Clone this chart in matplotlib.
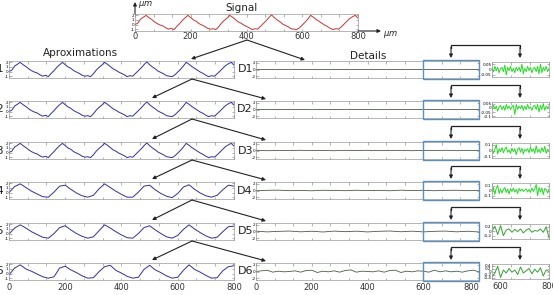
import matplotlib
matplotlib.use("Agg")
import matplotlib.pyplot as plt
from matplotlib.patches import Rectangle
from matplotlib.transforms import blended_transform_factory

W, H = 553, 295

# measured profile (um), sampled every 10 um
signal_x = list(range(0, 801, 10))
signal = [0.0, 0.3, 1.2, 1.6, 2.0, 1.5, 1.1, 0.6, 0.2, -0.1,
          -0.3, -0.7, -1.0, -0.8, -1.1, -0.4, 0.2, 0.9, 1.5, 2.0,
          1.5, 1.0, 0.7, 0.2, -0.1, -0.4, -0.8, -1.0, -0.9, -1.1,
          -0.5, 0.3, 0.9, 1.4, 2.0, 1.6, 1.1, 0.6, 0.3, -0.1,
          -0.4, -0.7, -1.1, -0.9, -1.0, -0.4, 0.2, 0.8, 1.5, 2.1,
          1.5, 1.0, 0.6, 0.1, -0.2, -0.5, -0.9, -1.0, -1.1, -0.7,
          -0.1, 0.5, 1.2, 2.0, 1.6, 1.1, 0.7, 0.3, -0.1, -0.4,
          -0.8, -1.1, -0.9, -1.0, -0.5, 0.1, 0.7, 1.3, 1.7, 2.0, 1.4]

# coarser approximations, every 20 um
approx_x = list(range(0, 801, 20))
a4 = [0.0, 1.3, 1.9, 1.1, 0.3, -0.3, -0.9, -1.0, 0.1, 1.4,
      1.6, 0.7, -0.1, -0.7, -1.0, -0.6, 0.8, 1.9, 1.1, 0.3,
      -0.4, -1.0, -1.0, 0.1, 1.4, 1.6, 0.6, -0.2, -0.8, -1.1,
      -0.2, 1.2, 1.7, 0.7, -0.1, -0.7, -1.0, -0.6, 0.6, 1.6, 1.4]
a5 = [-0.1, 1.2, 1.9, 1.2, 0.4, -0.2, -0.8, -1.0, 0.0, 1.3,
      1.7, 0.8, 0.0, -0.6, -1.0, -0.7, 0.6, 1.9, 1.2, 0.4,
      -0.3, -0.9, -1.0, 0.0, 1.3, 1.7, 0.8, 0.0, -0.7, -1.0,
      -0.4, 0.9, 1.9, 1.0, 0.2, -0.5, -1.0, -0.8, 0.4, 1.5, 1.6]
a6 = [-0.3, 1.2, 1.9, 1.0, 0.5, -0.1, -0.7, -1.0, -0.7, 1.2,
      1.6, 0.8, 0.2, -0.5, -1.0, -0.9, 0.4, 1.5, 1.8, 0.7,
      0.1, -0.6, -1.0, -0.8, 0.9, 1.8, 0.8, 0.2, -0.5, -1.0,
      -0.8, 0.7, 1.9, 0.9, 0.3, -0.4, -1.0, -0.9, 0.6, 1.5, 1.7]

# details over the full length
detail_x = list(range(0, 801, 40))
d1 = [0.02, -0.03, 0.01, 0.04, -0.02, 0.03, -0.04, 0.02, -0.01, 0.03, -0.02,
      0.01, 0.03, -0.03, 0.02, -0.01, 0.02, -0.04, 0.03, -0.02, 0.01]
d2 = [-0.03, 0.04, -0.02, 0.03, 0.01, -0.05, 0.02, -0.03, 0.04, -0.01, 0.02,
      -0.04, 0.03, 0.01, -0.02, 0.04, -0.03, 0.02, -0.05, 0.03, -0.01]
d3 = [0.05, -0.06, 0.03, -0.02, 0.07, -0.04, 0.02, -0.07, 0.05, -0.03, 0.06,
      -0.05, 0.02, 0.04, -0.06, 0.03, -0.02, 0.07, -0.05, 0.04, -0.02]
d4 = [-0.08, 0.06, 0.1, -0.05, 0.03, -0.09, 0.07, 0.02, -0.06, 0.09, -0.04,
      0.05, -0.08, 0.1, -0.03, 0.06, -0.07, 0.04, 0.08, -0.05, 0.02]
d5 = [0.1, -0.12, 0.05, 0.14, -0.1, 0.08, -0.15, 0.12, -0.05, 0.1, -0.13,
      0.06, 0.15, -0.08, 0.1, -0.12, 0.05, 0.13, -0.1, 0.08, -0.15]
d6_x = list(range(0, 801, 20))
d6 = [0.0, 0.2, 0.4, -0.2, 0.1, -0.1, 0.0, 0.2, -0.2, 0.3, 0.4, -0.3, 0.1, -0.1,
      0.2, -0.2, 0.3, 0.5, -0.2, 0.1, 0.0, -0.1, 0.2, -0.2, 0.3, 0.4, -0.3, 0.1,
      -0.1, 0.2, 0.1, -0.2, 0.4, -0.1, 0.2, -0.1, 0.1, -0.2, 0.2, 0.4, -0.1]

# zoom on 600..800 um
zoom_fine_x = list(range(600, 801, 5))
d1_zoom = [0.01, -0.02, 0.03, -0.01, 0.02, -0.03, 0.01, 0.02, -0.02, 0.04, -0.05,
           0.02, -0.01, 0.03, -0.02, 0.01, -0.03, 0.02, -0.01, 0.02, -0.02, 0.05,
           -0.04, 0.01, -0.02, 0.03, -0.01, 0.02, -0.03, 0.01, 0.02, -0.02, 0.03,
           -0.04, 0.05, -0.03, 0.02, -0.01, 0.03, -0.02, 0.01]
d2_zoom = [-0.02, 0.03, -0.01, 0.02, -0.04, 0.01, 0.03, -0.02, 0.02, -0.03, 0.04,
           -0.01, 0.02, -0.02, 0.01, 0.03, -0.08, 0.04, -0.02, 0.02, -0.01, 0.03,
           -0.03, 0.02, -0.02, 0.04, -0.01, 0.01, -0.03, 0.02, 0.03, -0.02, 0.04,
           -0.05, 0.03, -0.02, 0.05, -0.03, 0.02, -0.01, 0.02]
d3_zoom = [0.03, -0.05, 0.02, 0.1, -0.06, 0.03, -0.02, 0.05, -0.04, 0.02, 0.06,
           -0.03, 0.01, -0.05, 0.04, -0.02, 0.03, -0.07, 0.02, 0.05, -0.03, 0.04,
           -0.06, 0.02, -0.01, 0.03, -0.04, 0.06, -0.02, 0.03, -0.05, 0.08, -0.03,
           0.02, -0.04, 0.05, -0.02, 0.07, -0.05, 0.02, -0.01]
d4_zoom = [-0.04, 0.06, -0.08, 0.05, 0.1, -0.06, 0.03, -0.05, 0.02, 0.06, -0.04,
           0.03, -0.07, 0.04, -0.02, 0.05, -0.03, 0.02, -0.06, 0.04, -0.01, 0.03,
           -0.02, 0.01, 0.03, -0.03, 0.02, -0.04, 0.05, -0.02, 0.03, 0.12, -0.1,
           0.06, -0.03, 0.05, -0.08, 0.04, 0.02, -0.05, 0.03]
zoom_coarse_x = list(range(600, 801, 10))
d5_zoom = [0.0, 0.22, -0.15, 0.25, -0.2, 0.05, 0.1, -0.05, 0.08, -0.02, 0.1,
           -0.08, 0.05, 0.12, -0.05, 0.03, 0.0, 0.1, -0.05, 0.2, -0.3]
d6_zoom = [-0.35, -0.1, 0.35, -0.4, 0.1, -0.1, 0.2, -0.05, 0.1, -0.2, 0.3,
           -0.1, 0.05, 0.2, -0.15, 0.15, -0.05, 0.25, -0.3, 0.1, 0.0]

approx_series = [(signal_x, signal), (signal_x, signal), (signal_x, signal),
                 (approx_x, a4), (approx_x, a5), (approx_x, a6)]
detail_series = [(detail_x, d1), (detail_x, d2), (detail_x, d3),
                 (detail_x, d4), (detail_x, d5), (d6_x, d6)]
zoom_series = [(zoom_fine_x, d1_zoom), (zoom_fine_x, d2_zoom), (zoom_fine_x, d3_zoom),
               (zoom_fine_x, d4_zoom), (zoom_coarse_x, d5_zoom), (zoom_coarse_x, d6_zoom)]
zoom_yticks = [[0.05, 0, -0.05], [0.05, 0, -0.05, -0.1], [0.1, 0, -0.1],
               [0.1, 0, -0.1], [0.2, 0, -0.2], [0.4, 0.2, 0, -0.2, -0.4]]
zoom_ylims = [(-0.07, 0.07), (-0.11, 0.07), (-0.13, 0.13),
              (-0.15, 0.15), (-0.35, 0.32), (-0.5, 0.5)]

row_tops = [61, 101, 142, 182, 223, 263]
row_h = 17

fig = plt.figure(figsize=(W / 100, H / 100), dpi=100)
fig.patch.set_facecolor("white")


def px_axes(x0, y0, x1, y1):
    return fig.add_axes([x0 / W, 1 - y1 / H, (x1 - x0) / W, (y1 - y0) / H])


def style(ax, xlim, xticks, show_x, yticks, ylim):
    ax.set_xlim(*xlim)
    ax.set_ylim(*ylim)
    ax.set_xticks(xticks)
    if show_x:
        ax.set_xticklabels([f"{t:.0f}" if round(t) % 200 == 0 else "" for t in xticks])
    else:
        ax.set_xticklabels([])
    ax.set_yticks(yticks)
    ax.set_yticklabels([f"{t:g}" for t in yticks])
    ax.tick_params(direction="in", top=True, right=True, length=1.8, width=0.4,
                   color="#777777", pad=0.6)
    ax.tick_params(axis="y", labelsize=3.0, pad=0.4)
    ax.tick_params(axis="x", labelsize=6, pad=2, labelcolor="#333333")
    for s in ax.spines.values():
        s.set_linewidth(0.5)
        s.set_color("#999999")


ticks13 = [i * 800 / 12 for i in range(13)]
zticks = [600, 600 + 200 / 3, 600 + 400 / 3, 800]

# signal
ax = px_axes(135, 14, 358, 31)
ax.plot(signal_x, signal, color="#d03030", lw=0.7)
style(ax, (0, 800), ticks13, True, [2, 1, 0, -1], (-1.4, 2.3))
ax.tick_params(axis="x", labelsize=6, pad=1)

for i in range(6):
    top = row_tops[i]
    bot = top + row_h
    last = i == 5
    ax = px_axes(9, top, 234, bot)
    x, y = approx_series[i]
    ax.plot(x, y, color="#2f2fa0", lw=0.7)
    style(ax, (0, 800), ticks13, last, [2, 1, 0, -1], (-1.4, 2.3))

    ax = px_axes(256, top, 479, bot)
    x, y = detail_series[i]
    ax.plot(x, y, color="#4a5a4a", lw=0.6)
    style(ax, (0, 800), ticks13, last, [2, 0, -2], (-2.6, 2.6))
    if last:
        ax.get_xticklabels()[-1].set_ha("right")
    tr = blended_transform_factory(ax.transData, ax.transAxes)
    ax.add_patch(Rectangle((600, -0.08), 200, 1.16, transform=tr, fill=False,
                           ec="#5b8fc0", lw=1.0, clip_on=False, zorder=5))

    ax = px_axes(492, top + 1, 549, bot - 1)
    x, y = zoom_series[i]
    col = "#22dd22" if i < 4 else "#33a033"
    ax.plot(x, y, color=col, lw=0.7)
    style(ax, (600, 800), zticks, last, zoom_yticks[i], zoom_ylims[i])
    if last:
        ax.get_xticklabels()[0].set_ha("left")

# overlay for arrows and labels
ov = fig.add_axes([0, 0, 1, 1])
ov.set_xlim(0, W)
ov.set_ylim(H, 0)
ov.axis("off")
ov.patch.set_alpha(0)
ov.set_zorder(10)


def arrow(start, tip):
    ov.annotate("", xy=tip, xytext=start,
                arrowprops=dict(arrowstyle="-|>", color="#222222", lw=0.8,
                                mutation_scale=5, shrinkA=0, shrinkB=0))


ov.text(241, 8, "Signal", ha="center", va="center", fontsize=7.5, color="#222222")
ov.text(80, 53, "Aproximations", ha="center", va="center", fontsize=7.5, color="#222222")
ov.text(368, 56, "Details", ha="center", va="center", fontsize=7.5, color="#222222")

# signal axis arrows
arrow((358, 31), (381, 31))
arrow((135, 14), (135, 2))
ov.text(383, 34, "$\\mu m$", ha="left", va="center", fontsize=6, color="#222222")
ov.text(138, 5, "$\\mu m$", ha="left", va="center", fontsize=6, color="#222222")

arrow((247, 40), (191, 59))
arrow((247, 40), (305, 60))
for i in range(5):
    start = (192, row_tops[i] + row_h + 1)
    arrow(start, (152, row_tops[i + 1] - 3))
    arrow(start, (266, row_tops[i + 1] - 2))

for i in range(6):
    top = row_tops[i]
    mid = top + row_h / 2
    ov.text(5, mid, f"A{i + 1}", ha="right", va="center", fontsize=8, color="#222222")
    ov.text(253, mid, f"D{i + 1}", ha="right", va="center", fontsize=8, color="#222222")
    lx, rx = 451, 520
    ty = top - 16
    ov.plot([lx, lx, rx, rx], [ty + 3, ty, ty, ty + 3], color="#222222", lw=0.9,
            solid_joinstyle="miter")
    arrow((lx, ty + 2), (lx, top - 3))
    arrow((rx, ty + 2), (rx, top - 3))

fig.savefig("out.png", dpi=100)
